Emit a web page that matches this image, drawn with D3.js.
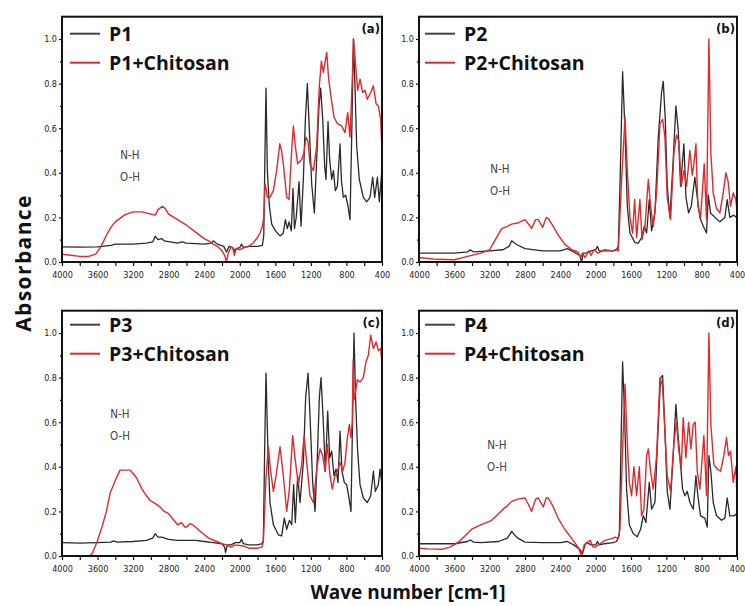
<!DOCTYPE html>
<html>
<head>
<meta charset="utf-8">
<title>FTIR spectra P1-P4</title>
<script src="https://d3js.org/d3.v7.min.js"></script>
<style>
  body { margin: 0; background: #fff; }
  .tick text { font-family: "Liberation Sans Narrow", "DejaVu Sans Condensed", sans-serif; font-size: 9px; fill: #222; }
  .tick line { stroke: #111; stroke-width: 1.2px; }
  .legend { font-family: "Open Sans", sans-serif; font-weight: bold; font-size: 19.5px; fill: #111; }
  .note { font-family: "Liberation Sans Narrow", "DejaVu Sans Condensed", sans-serif; font-size: 11.5px; fill: #444; }
  .tag { font-family: "Liberation Sans Narrow", "DejaVu Sans Condensed", sans-serif; font-weight: bold; font-size: 13px; fill: #111; }
  .title { font-family: "Open Sans", sans-serif; font-weight: bold; font-size: 19px; fill: #111; }
</style>
</head>
<body>
<div id="chart"></div>
<script>

// ---- data: [wave number, absorbance] ----
var p1 = [[4000,0.068],[3800,0.067],[3600,0.068],[3450,0.075],[3400,0.08],[3200,0.08],[3050,0.085],[2980,0.09],[2950,0.115],[2920,0.1],[2880,0.105],[2850,0.095],[2700,0.085],[2650,0.09],[2600,0.085],[2400,0.08],[2320,0.085],[2300,0.095],[2250,0.08],[2180,0.07],[2150,0.045],[2120,0.07],[2080,0.065],[2060,0.05],[2040,0.06],[2000,0.065],[1980,0.08],[1960,0.065],[1900,0.07],[1800,0.07],[1745,0.075],[1730,0.12],[1720,0.4],[1705,0.78],[1690,0.41],[1667,0.25],[1641,0.17],[1592,0.136],[1547,0.117],[1510,0.13],[1487,0.19],[1465,0.15],[1445,0.18],[1420,0.14],[1401,0.33],[1385,0.15],[1365,0.2],[1333,0.36],[1311,0.16],[1285,0.37],[1262,0.64],[1240,0.8],[1217,0.59],[1191,0.35],[1161,0.22],[1135,0.46],[1109,0.7],[1090,0.78],[1067,0.64],[1045,0.43],[1030,0.37],[1007,0.63],[989,0.46],[966,0.37],[947,0.41],[925,0.32],[902,0.34],[872,0.53],[857,0.37],[835,0.29],[809,0.3],[782,0.25],[760,0.19],[737,0.64],[722,1.0],[704,0.79],[685,0.52],[655,0.37],[610,0.29],[572,0.27],[535,0.29],[505,0.38],[482,0.29],[452,0.38],[430,0.27],[404,0.40],[400,0.38]];
var p1Chitosan = [[4000,0.035],[3900,0.03],[3800,0.025],[3700,0.025],[3620,0.035],[3560,0.07],[3500,0.12],[3450,0.155],[3400,0.18],[3300,0.21],[3200,0.225],[3100,0.225],[3000,0.215],[2950,0.21],[2920,0.235],[2870,0.25],[2840,0.24],[2800,0.215],[2700,0.19],[2600,0.165],[2500,0.135],[2400,0.105],[2330,0.09],[2300,0.08],[2250,0.07],[2200,0.05],[2170,0.03],[2150,0.0],[2130,0.04],[2100,0.065],[2080,0.065],[2060,0.03],[2040,0.06],[2000,0.055],[1950,0.065],[1900,0.07],[1850,0.085],[1800,0.11],[1772,0.13],[1745,0.16],[1730,0.2],[1716,0.35],[1700,0.32],[1690,0.29],[1660,0.29],[1622,0.32],[1585,0.41],[1550,0.53],[1530,0.5],[1510,0.44],[1472,0.29],[1446,0.28],[1416,0.5],[1397,0.61],[1375,0.52],[1349,0.44],[1304,0.46],[1277,0.49],[1255,0.56],[1232,0.54],[1210,0.44],[1172,0.41],[1135,0.52],[1105,0.79],[1082,0.9],[1060,0.85],[1022,0.94],[1000,0.82],[970,0.73],[940,0.65],[902,0.62],[854,0.61],[816,0.58],[786,0.67],[760,0.56],[737,0.79],[719,1.0],[692,0.86],[674,0.77],[647,0.82],[617,0.76],[591,0.77],[565,0.73],[527,0.76],[497,0.79],[467,0.71],[441,0.7],[415,0.64],[400,0.5]];

var p2 = [[4000,0.04],[3800,0.04],[3600,0.04],[3450,0.045],[3420,0.055],[3380,0.045],[3200,0.05],[3050,0.055],[2980,0.07],[2950,0.095],[2920,0.085],[2880,0.075],[2800,0.06],[2600,0.05],[2400,0.05],[2320,0.06],[2250,0.045],[2180,0.03],[2160,0.0],[2140,0.04],[2100,0.04],[2050,0.05],[2000,0.055],[1980,0.07],[1960,0.05],[1900,0.05],[1800,0.05],[1763,0.057],[1744,0.07],[1725,0.34],[1695,0.854],[1668,0.59],[1642,0.25],[1612,0.13],[1555,0.087],[1518,0.085],[1480,0.11],[1450,0.16],[1423,0.13],[1393,0.28],[1367,0.14],[1329,0.22],[1291,0.56],[1254,0.76],[1235,0.81],[1212,0.64],[1190,0.34],[1159,0.2],[1122,0.46],[1092,0.7],[1065,0.59],[1039,0.34],[1001,0.53],[978,0.29],[948,0.22],[918,0.25],[877,0.38],[850,0.29],[820,0.2],[782,0.16],[745,0.13],[725,0.3],[700,0.22],[650,0.2],[594,0.18],[537,0.2],[511,0.28],[481,0.2],[436,0.21],[405,0.2],[400,0.22]];
var p2Chitosan = [[4000,0.02],[3800,0.012],[3600,0.01],[3450,0.025],[3300,0.04],[3200,0.055],[3150,0.09],[3064,0.15],[3000,0.16],[2951,0.17],[2880,0.175],[2800,0.19],[2750,0.165],[2725,0.15],[2680,0.19],[2650,0.19],[2600,0.155],[2560,0.2],[2536,0.195],[2480,0.16],[2423,0.12],[2350,0.08],[2272,0.055],[2200,0.045],[2170,0.02],[2150,0.04],[2120,0.02],[2080,0.05],[2050,0.03],[2020,0.055],[1972,0.04],[1900,0.055],[1800,0.05],[1763,0.055],[1744,0.05],[1706,0.37],[1668,0.65],[1642,0.41],[1612,0.2],[1582,0.13],[1559,0.28],[1536,0.11],[1499,0.28],[1476,0.1],[1442,0.16],[1404,0.37],[1378,0.25],[1348,0.16],[1310,0.31],[1272,0.62],[1242,0.64],[1216,0.56],[1190,0.29],[1152,0.19],[1114,0.49],[1084,0.57],[1058,0.54],[1031,0.34],[1001,0.41],[971,0.34],[933,0.5],[907,0.39],[888,0.44],[865,0.53],[843,0.25],[812,0.2],[771,0.44],[745,0.19],[718,1.0],[696,0.49],[669,0.31],[632,0.24],[594,0.22],[556,0.31],[526,0.4],[500,0.36],[473,0.25],[443,0.31],[413,0.28],[400,0.22]];

var p3 = [[4000,0.06],[3800,0.058],[3600,0.06],[3450,0.062],[3420,0.068],[3380,0.062],[3200,0.065],[3050,0.07],[2980,0.08],[2950,0.1],[2920,0.085],[2880,0.085],[2800,0.075],[2700,0.07],[2500,0.07],[2400,0.065],[2300,0.06],[2200,0.055],[2170,0.04],[2160,0.015],[2140,0.05],[2100,0.05],[2050,0.06],[2000,0.06],[1980,0.075],[1960,0.055],[1900,0.05],[1800,0.05],[1750,0.055],[1735,0.07],[1720,0.48],[1705,0.82],[1682,0.45],[1660,0.24],[1622,0.14],[1566,0.095],[1529,0.09],[1499,0.17],[1472,0.12],[1442,0.16],[1416,0.14],[1394,0.32],[1375,0.15],[1349,0.36],[1322,0.24],[1285,0.42],[1259,0.71],[1232,0.82],[1210,0.63],[1180,0.33],[1154,0.2],[1127,0.45],[1105,0.71],[1086,0.8],[1064,0.63],[1037,0.38],[1011,0.65],[989,0.44],[966,0.47],[940,0.36],[917,0.39],[895,0.33],[872,0.56],[850,0.38],[824,0.33],[797,0.32],[771,0.26],[749,0.2],[730,0.63],[715,1.0],[696,0.69],[674,0.47],[647,0.32],[610,0.26],[565,0.24],[527,0.27],[497,0.38],[475,0.29],[441,0.32],[422,0.39],[400,0.32]];
var p3Chitosan = [[4000,0.0],[3800,0.0],[3700,0.0],[3660,0.01],[3600,0.07],[3550,0.13],[3500,0.2],[3460,0.28],[3400,0.34],[3347,0.385],[3300,0.385],[3235,0.385],[3200,0.37],[3160,0.35],[3100,0.3],[3050,0.27],[3010,0.25],[2950,0.235],[2897,0.22],[2850,0.2],[2800,0.19],[2751,0.165],[2700,0.14],[2654,0.15],[2620,0.13],[2597,0.13],[2560,0.145],[2530,0.14],[2470,0.12],[2413,0.1],[2350,0.08],[2260,0.065],[2200,0.055],[2148,0.05],[2100,0.04],[2050,0.05],[1960,0.045],[1900,0.035],[1800,0.035],[1750,0.04],[1735,0.065],[1705,0.35],[1679,0.49],[1652,0.38],[1622,0.29],[1592,0.36],[1547,0.49],[1510,0.36],[1472,0.2],[1442,0.3],[1405,0.54],[1379,0.44],[1341,0.32],[1304,0.41],[1277,0.54],[1247,0.42],[1210,0.27],[1172,0.24],[1135,0.39],[1097,0.48],[1067,0.45],[1041,0.38],[1015,0.5],[985,0.36],[959,0.3],[929,0.36],[902,0.38],[872,0.42],[842,0.38],[816,0.42],[790,0.53],[767,0.59],[749,0.53],[735,0.6],[724,0.88],[715,0.7],[704,0.72],[677,0.79],[647,0.78],[610,0.8],[580,0.87],[554,0.9],[527,0.99],[497,0.93],[467,0.96],[441,0.92],[415,0.93],[400,0.86]];

var p4 = [[4000,0.055],[3800,0.055],[3600,0.055],[3450,0.065],[3420,0.072],[3380,0.062],[3300,0.06],[3100,0.065],[3000,0.08],[2950,0.11],[2920,0.095],[2880,0.08],[2800,0.062],[2600,0.06],[2400,0.06],[2320,0.065],[2250,0.05],[2180,0.03],[2150,0.01],[2120,0.05],[2100,0.06],[2050,0.05],[2000,0.05],[1980,0.065],[1960,0.05],[1900,0.055],[1800,0.06],[1763,0.065],[1732,0.095],[1714,0.48],[1695,0.87],[1672,0.63],[1650,0.3],[1619,0.14],[1574,0.1],[1529,0.086],[1491,0.12],[1461,0.18],[1431,0.15],[1393,0.33],[1367,0.21],[1329,0.24],[1291,0.59],[1265,0.8],[1242,0.81],[1216,0.56],[1190,0.29],[1159,0.21],[1122,0.45],[1092,0.68],[1065,0.53],[1039,0.41],[1016,0.3],[990,0.27],[963,0.29],[933,0.24],[895,0.21],[865,0.36],[843,0.27],[813,0.18],[764,0.17],[737,0.13],[718,0.45],[696,0.38],[669,0.24],[632,0.18],[575,0.16],[537,0.17],[511,0.26],[481,0.18],[436,0.18],[400,0.19]];
var p4Chitosan = [[4000,0.035],[3900,0.032],[3743,0.03],[3650,0.04],[3559,0.06],[3480,0.09],[3404,0.12],[3300,0.14],[3177,0.16],[3100,0.19],[3049,0.21],[3000,0.225],[2951,0.245],[2880,0.255],[2800,0.26],[2760,0.23],[2725,0.2],[2680,0.255],[2650,0.26],[2593,0.22],[2560,0.26],[2536,0.26],[2480,0.22],[2426,0.17],[2350,0.12],[2274,0.08],[2200,0.04],[2158,0.0],[2130,0.05],[2100,0.06],[2060,0.07],[2030,0.04],[2006,0.04],[1950,0.055],[1893,0.07],[1800,0.08],[1780,0.085],[1744,0.08],[1725,0.12],[1695,0.48],[1668,0.77],[1642,0.51],[1619,0.33],[1593,0.27],[1567,0.4],[1536,0.27],[1506,0.4],[1480,0.18],[1454,0.21],[1423,0.45],[1404,0.48],[1378,0.38],[1348,0.3],[1310,0.45],[1272,0.8],[1242,0.76],[1216,0.56],[1190,0.36],[1152,0.29],[1114,0.51],[1084,0.6],[1061,0.48],[1031,0.39],[1009,0.62],[978,0.44],[948,0.6],[922,0.48],[895,0.59],[873,0.6],[850,0.38],[820,0.3],[775,0.54],[745,0.27],[718,1.0],[696,0.59],[662,0.41],[624,0.39],[586,0.38],[549,0.45],[519,0.53],[496,0.45],[473,0.47],[443,0.33],[413,0.4],[400,0.26]];

var sampleNames = ["P1", "P2", "P3", "P4"];
var panelTags = ["(a)", "(b)", "(c)", "(d)"];
var bareSeries = [p1, p2, p3, p4];
var chitosanSeries = [p1Chitosan, p2Chitosan, p3Chitosan, p4Chitosan];
// where the "N-H / O-H" note sits, in data units [wave number, absorbance]
var noteAt = [[3235, 0.46], [3083, 0.40], [3348, 0.62], [3117, 0.48]];

var xMajor = d3.range(4000, 399, -400);
var xMinor = d3.range(3800, 400, -400);
var yMajor = [0, 0.2, 0.4, 0.6, 0.8, 1.0];
var yMinor = [0.1, 0.3, 0.5, 0.7, 0.9];

// ---- layout ----
var width = 745, height = 606;
var panels = [
    { left: 62,  right: 382, base: 262, legendTop: 17 },
    { left: 419, right: 737, base: 262, legendTop: 17 },
    { left: 62,  right: 382, base: 556, legendTop: 14 },
    { left: 419, right: 737, base: 556, legendTop: 14 }
];
var unitHeight = 223;   // pixels for 1.0 absorbance

var svg = d3.select("#chart").append("svg")
    .attr("width", width)
    .attr("height", height);

svg.append("rect").attr("width", width).attr("height", height).attr("fill", "#fff");

var blackCol = "#2a2a2a", redCol = "#e3282c";

panels.forEach(function(p, i) {

    var x = d3.scaleLinear().domain([4000, 400]).range([p.left, p.right]);
    var y = d3.scaleLinear().domain([0, 1.1]).range([p.base, p.base - unitHeight * 1.1]);

    var g = svg.append("g");

    // minor ticks first
    g.append("g")
        .attr("transform", "translate(0," + p.base + ")")
        .call(d3.axisBottom(x).tickValues(xMinor).tickSize(4).tickFormat(""))
        .call(function(s) { s.select(".domain").remove(); });
    g.append("g")
        .attr("transform", "translate(" + p.left + ",0)")
        .call(d3.axisLeft(y).tickValues(yMinor).tickSize(2).tickFormat(""))
        .call(function(s) { s.select(".domain").remove(); });

    g.append("g")
        .attr("transform", "translate(0," + p.base + ")")
        .call(d3.axisBottom(x).tickValues(xMajor).tickSize(4).tickPadding(6).tickFormat(d3.format("d")))
        .call(function(s) { s.select(".domain").remove(); });
    g.append("g")
        .attr("transform", "translate(" + p.left + ",0)")
        .call(d3.axisLeft(y).tickValues(yMajor).tickSize(3).tickPadding(2).tickFormat(d3.format(".1f")))
        .call(function(s) { s.select(".domain").remove(); });

    var line = d3.line()
        .x(function(d) { return x(d[0]); })
        .y(function(d) { return y(d[1]); });

    g.append("path")
        .datum(bareSeries[i])
        .attr("d", line)
        .attr("fill", "none")
        .attr("stroke", blackCol)
        .attr("stroke-width", 1.3)
        .attr("stroke-linejoin", "round");

    g.append("path")
        .datum(chitosanSeries[i])
        .attr("d", line)
        .attr("fill", "none")
        .attr("stroke", redCol)
        .attr("stroke-width", 1.4)
        .attr("stroke-linejoin", "round");

    // frame
    g.append("rect")
        .attr("x", p.left)
        .attr("y", y(1.1))
        .attr("width", p.right - p.left)
        .attr("height", p.base - y(1.1))
        .attr("fill", "none")
        .attr("stroke", "#111")
        .attr("stroke-width", 2);

    // legend
    var ly = y(1.1) + p.legendTop;
    var lx = p.left + (i % 2 ? 6 : 8);
    g.append("line").attr("x1", lx).attr("x2", lx + 30).attr("y1", ly).attr("y2", ly)
        .attr("stroke", "#444").attr("stroke-width", 2);
    g.append("text").attr("class", "legend").attr("x", lx + 39).attr("y", ly + 7)
        .text(sampleNames[i]);
    g.append("line").attr("x1", lx).attr("x2", lx + 30).attr("y1", ly + 29).attr("y2", ly + 29)
        .attr("stroke", redCol).attr("stroke-width", 2);
    g.append("text").attr("class", "legend").attr("x", lx + 39).attr("y", ly + 36)
        .text(sampleNames[i] + "+Chitosan");

    g.append("text").attr("class", "tag")
        .attr("x", p.right - 2).attr("y", y(1.1) + 16)
        .attr("text-anchor", "end")
        .text(panelTags[i]);

    // N-H / O-H note
    var nx = x(noteAt[i][0]), ny = y(noteAt[i][1]);
    g.append("text").attr("class", "note").attr("x", nx).attr("y", ny)
        .attr("text-anchor", "middle").text("N-H");
    g.append("text").attr("class", "note").attr("x", nx).attr("y", ny + 22)
        .attr("text-anchor", "middle").text("O-H");
});

// shared axis titles
svg.append("text").attr("class", "title")
    .attr("transform", "translate(31,263) rotate(-90)")
    .attr("text-anchor", "middle")
    .style("font-size", "21px")
    .style("letter-spacing", "1.4px")
    .text("Absorbance");

svg.append("text").attr("class", "title")
    .attr("x", 408).attr("y", 599)
    .attr("text-anchor", "middle")
    .text("Wave number [cm-1]");

</script>
</body>
</html>
